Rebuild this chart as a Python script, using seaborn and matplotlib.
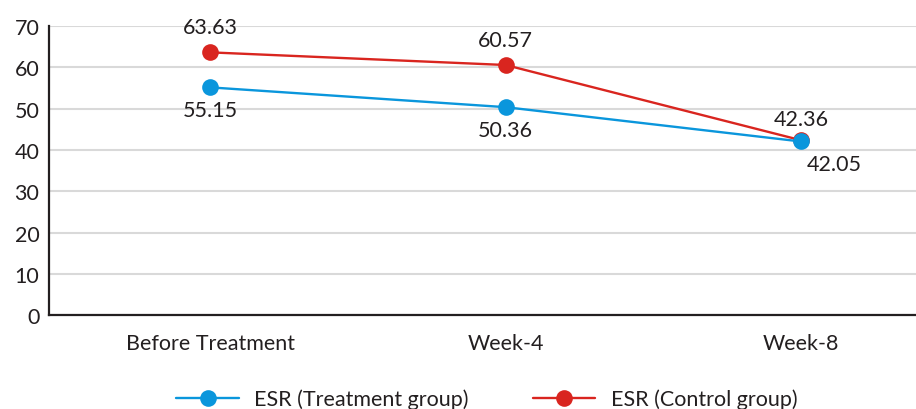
import matplotlib
matplotlib.use("Agg")
import matplotlib.pyplot as plt
import pandas as pd
import seaborn as sns

# data
timepoints = ["Before Treatment", "Week-4", "Week-8"]
treatment_esr = [55.15, 50.36, 42.05]
control_esr = [63.63, 60.57, 42.36]
series_names = ["ESR (Treatment group)", "ESR (Control group)"]

df = pd.DataFrame({
    "time": timepoints * 2,
    "esr": treatment_esr + control_esr,
    "group": [series_names[0]] * 3 + [series_names[1]] * 3,
})

sns.set_theme(style="white")
plt.rcParams["font.family"] = ["Lato", "DejaVu Sans"]

colors = {series_names[0]: "#0a96dc", series_names[1]: "#d9251f"}
text_color = "#231f20"
fs = 15.5

fig = plt.figure(figsize=(9.16, 4.10), dpi=100)
ax = fig.add_axes([0.0535, 0.229, 0.9465, 0.705])

# draw control first so treatment sits on top
for name in [series_names[1], series_names[0]]:
    sns.lineplot(data=df[df["group"] == name], x="time", y="esr",
                 color=colors[name], marker="o", markersize=12,
                 markeredgewidth=0, linewidth=1.7, sort=False, ax=ax,
                 label=name)

# value labels
for i, v in enumerate(control_esr):
    dy = 15 if i == 2 else 18
    ax.annotate(f"{v:.2f}", (i, v), xytext=(0, dy), textcoords="offset points",
                ha="center", va="center", fontsize=fs, color=text_color)
for i, v in enumerate(treatment_esr):
    dx = 24 if i == 2 else 0
    ax.annotate(f"{v:.2f}", (i, v), xytext=(dx, -16.5), textcoords="offset points",
                ha="center", va="center", fontsize=fs, color=text_color)

ax.set_ylim(0, 70)
ax.set_xlim(-0.546, 2.39)
ax.set_yticks(range(0, 71, 10))
ax.yaxis.grid(True, color="#d9d9d9", linewidth=1.5)
ax.set_axisbelow(True)
ax.set_xlabel("")
ax.set_ylabel("")
ax.tick_params(length=0, labelsize=fs, colors=text_color)
ax.tick_params(axis="x", pad=13)
ax.tick_params(axis="y", pad=7)
for s in ["top", "right"]:
    ax.spines[s].set_visible(False)
for s in ["left", "bottom"]:
    ax.spines[s].set_color(text_color)
    ax.spines[s].set_linewidth(1.6)

handles, labels = ax.get_legend_handles_labels()
order = [labels.index(n) for n in series_names]
ax.legend([handles[k] for k in order], [labels[k] for k in order],
          loc="center", bbox_to_anchor=(0.505, -0.29), ncol=2, frameon=False,
          fontsize=fs, handlelength=2.9, columnspacing=3.0, handletextpad=0.7,
          labelcolor=text_color)

fig.savefig("out.png", dpi=100)
